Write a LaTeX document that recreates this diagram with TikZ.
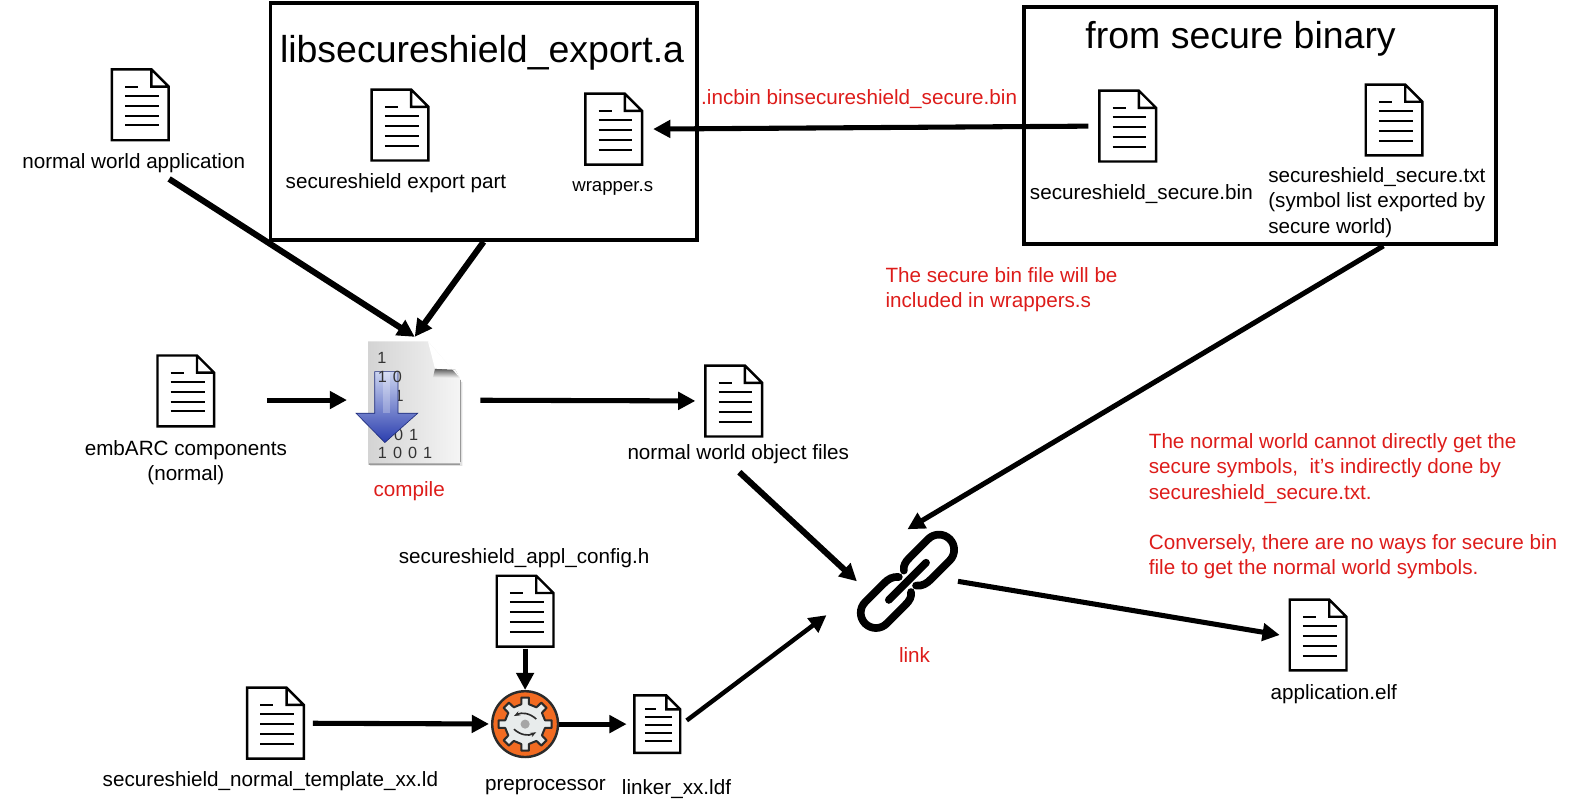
\documentclass[tikz,border=0pt]{standalone}
\usepackage{fontspec}
\setmainfont{Liberation Sans}
\usetikzlibrary{arrows.meta,positioning,calc}
\definecolor{notered}{HTML}{DD1C1A}
\definecolor{gearfill}{HTML}{F26B21}
\definecolor{gearline}{HTML}{2B2B2B}
\definecolor{gearbody}{HTML}{E8ECEC}
\definecolor{arrowtop}{HTML}{CBD4F0}
\definecolor{arrowlow}{HTML}{2A3DAE}

\begin{document}
\begin{tikzpicture}[
  x=0.5pt, y=-0.5pt,
  font=\fontsize{10.2}{12.4}\selectfont,
  doc/.style   = {minimum width=#1*29.5pt, minimum height=#1*36.5pt, inner sep=0pt,
                  path picture={
                    \begin{scope}[shift={(path picture bounding box.center)}, x={#1*0.5pt}, y={#1*-0.5pt}]
                      \draw[line width=1.2pt, line join=miter]
                        (-28,-35) -- (11,-35) -- (28,-18) -- (28,35) -- (-28,35) -- cycle
                        (11,-35) -- (11,-18) -- (28,-18);
                      \draw[line width=1pt] (-15,-18) -- (-2,-18);
                      \foreach \ly in {-9,1,10.7,20.3}
                        \draw[line width=1pt] (-15,\ly) -- (18.5,\ly);
                    \end{scope}}},
  doc/.default = 1,
  group/.style = {draw, line width=1.8pt, inner sep=0pt},
  title/.style = {font=\fontsize{18.5}{22}\selectfont, inner sep=0pt},
  lbl/.style   = {inner sep=0pt, text height=7.4pt, text depth=2.1pt},
  para/.style  = {inner sep=0pt, align=left},
  note/.style  = {para, text=notered},
  redlbl/.style= {lbl, text=notered},
  bits/.style  = {inner sep=0pt, text=black!80, font=\fontsize{8}{9}\selectfont,
                  execute at begin node={\spaceskip=3pt\relax}},
  flow/.style  = {-{Triangle[length=8.5pt,width=8.5pt]}, line width=2.5pt},
  heavy/.style = {flow, line width=3pt},
  linkpart/.style = {line width=3.8pt, line cap=round, line join=round},
]
\useasboundingbox (0,0) rectangle (1568,801);

% ---------- the two boxes on top ---------------------------------------------
\node[group, minimum width=210.5pt, minimum height=117pt] (libbox) at (477.5,120) {};
\node[title] (libtitle) at (476,52) {libsecureshield\_export.a};
\node[group, minimum width=233pt, minimum height=117pt] (securebox) at (1244,124) {};
\node[title] (securetitle) at (1225,38) {from secure binary};

\node[doc] (expdoc)  at (395,123.5)    {};
\node[doc] (wrapdoc) at (606,127.5)    {};
\node[doc] (bindoc)  at (1113.5,124.5) {};
\node[doc] (txtdoc)  at (1376.5,118.5) {};
\node[lbl, below=5.25pt of expdoc, xshift=-2pt] (explbl) {secureshield export part};
\node[lbl, below=4.75pt of wrapdoc, xshift=-0.5pt, font=\fontsize{9.2}{12}\selectfont] (wraplbl) {wrapper.s};
\node[lbl, below=10.25pt of bindoc, xshift=6.75pt] (binlbl) {secureshield\_secure.bin};
\node[para, below=5pt of txtdoc, xshift=-8.5pt] (txtlbl)
     {secureshield\_secure.txt\\(symbol list exported by\\secure world)};
\node[redlbl, anchor=west] (incbinlbl) at (692,98) {.incbin binsecureshield\_secure.bin};
\node[note, anchor=north west] (inclnote) at (874,264)
     {The secure bin file will be\\included in wrappers.s};

% ---------- compile row -------------------------------------------------------
\node[doc] (appdoc) at (138.5,103.5) {};
\node[lbl, below=5.25pt of appdoc, xshift=-3.25pt] (applbl) {normal world application};
\node[doc] (embdoc) at (183.5,386) {};
\node[para, below=6pt of embdoc, align=center] (emblbl) {embARC components\\(normal)};
\node[minimum width=46.5pt, minimum height=62pt, inner sep=0pt] (compile) at (409.5,395) {};
\begin{scope}[shift={(compile.center)}]
  \fill[black!12] (-44,-52) -- (-44,65) -- (47,65) -- (47,-18) -- (44,-18) -- (44,60) -- (-44,60) -- cycle;
  \fill[black!40] (-45.5,61) -- (45.5,61) -- (45.5,-20) -- (44.5,-20) -- (44.5,64) -- (-45.5,64) -- cycle;
  \shade[left color=black!17, right color=black!4]
    (-46,-58) -- (13,-58) -- (44.5,-22) -- (44.5,62.5) -- (-46,62.5) -- cycle;
  \shade[top color=black!65, bottom color=black!4]
    (20,-31) -- (40,-30) -- (44.5,-22) -- (18,-22) -- cycle;
  \fill[white] (13,-58) -- (20,-31) -- (40,-30) -- (44.5,-22) -- cycle;
\end{scope}
\node[bits] (bitsa) at (377,353) {1};
\node[bits] (bitsc) at (394,391) {1};
\node[bits] (bitsd) at (401,429) {0 1};
\node[bits] (bitse) at (400,447) {1 0 0 1};
\begin{scope}[shift={(compile.center)}]
  \shade[top color=arrowtop, bottom color=arrowlow, draw=arrowlow!70!black, line width=0.3pt]
    (-39.5,-28) -- (-16.5,-28) -- (-16.5,13) -- (3,13) -- (-29.5,42) -- (-58,13) -- (-39.5,13) -- cycle;
  \fill[white, opacity=0.25] (-31,-28) rectangle (-24,13);
\end{scope}
\node[bits] (bitsb) at (385,372) {1 0};
\node[redlbl, below=8.75pt of compile, xshift=-2.75pt] (compilelbl) {compile};
\node[doc] (objdoc) at (724.5,396) {};
\node[lbl, below=2.75pt of objdoc, xshift=2.25pt] (objlbl) {normal world object files};

% ---------- preprocessor row --------------------------------------------------
\node[doc] (configdoc) at (518.5,603.5) {};
\node[lbl, above=3pt of configdoc, xshift=-0.5pt] (configlbl) {secureshield\_appl\_config.h};
\node[doc] (templdoc) at (272,714) {};
\node[lbl, below=5.25pt of templdoc, xshift=-2.5pt] (templlbl) {secureshield\_normal\_template\_xx.ld};
\node[circle, draw=gearline, fill=gearfill, line width=1.2pt, minimum size=32.5pt, inner sep=0pt] (preproc) at (518.5,715) {};
\begin{scope}[shift={(preproc.center)}]
  \draw[gearline, fill=gearbody, line width=1pt, line join=round]
    (-11:20) \foreach \a in {0,45,...,315} {
      -- (\a-11:20) -- (\a-8:26.5) -- (\a+8:26.5) -- (\a+11:20) } -- cycle;
  \fill[black!35] (0,0) circle (4.5);
  \draw[gearline, line width=0.8pt, -{Stealth[length=3pt]}] (11,-5) to[bend right=35] (-11,-8);
  \draw[gearline, line width=0.8pt, -{Stealth[length=3pt]}] (-11,5) to[bend right=35] (11,8);
\end{scope}
\node[lbl, below=8.25pt of preproc, xshift=10pt] (preproclbl) {preprocessor};
\node[doc=0.81] (linkerdoc) at (649,715) {};
\node[lbl, below=12pt of linkerdoc, xshift=9.5pt] (linkerlbl) {linker\_xx.ldf};

% ---------- link and the result ----------------------------------------------
\node[minimum width=49.5pt, minimum height=51pt, inner sep=0pt] (link) at (896,574) {};
\begin{scope}[shift={(link.center)}, x=0.5pt, y=0.5pt, rotate=45]
  \foreach \r in {0,180} {
    \draw[linkpart, rotate=\r] (5,10) .. controls (8,14) and (12,15) .. (18,15) -- (44,15)
      arc[start angle=90, end angle=-90, radius=15]
      -- (18,-15) .. controls (12,-15) and (7,-14) .. (3,-9);
  }
  \draw[linkpart] (-26,0) -- (26,0);
\end{scope}
\node[redlbl, below=6.75pt of link, xshift=3.5pt] (linklbl) {link};
\node[doc] (elfdoc) at (1301.5,627) {};
\node[lbl, below=5.75pt of elfdoc, xshift=7.75pt] (elflbl) {application.elf};
\node[note, anchor=north west] (worldnote) at (1134,428)
     {The normal world cannot directly get the\\secure symbols,\ \ it’s indirectly done by\\secureshield\_secure.txt.\\[12.4pt]Conversely, there are no ways for secure bin\\file to get the normal world symbols.};

% ---------- connectors ---------------------------------------------------------
\draw[heavy] ($(applbl.south)+(35,6)$) -- (compile.north);
\draw[heavy] (libbox.south) -- (compile.north);
\draw[flow, shorten <=25pt, shorten >=10pt] (embdoc.east |- compile) -- (compile);
\draw[flow, shorten <=9pt, shorten >=4pt] (compile) -- (objdoc);
\draw[flow, shorten <=4.5pt, shorten >=4.5pt] (bindoc.west) -- (wrapdoc.east);
\draw[flow] ($(securebox.south)+(122,0)$) -- (link.north);
\draw[heavy] ($(objlbl.south)+(1,8)$) -- (link.west);
\draw[flow, line width=2.2pt, shorten <=3pt] (linkerdoc.east) -- ($(link.south west)+(-30,-18)$);
\draw[flow] (link.east) -- ($(elfdoc.west)+(-8,0)$);
\draw[flow] (configdoc) -- (preproc);
\draw[flow, shorten <=3.5pt, shorten >=1pt] (templdoc) -- (preproc);
\draw[flow, shorten >=3pt] (preproc) -- (linkerdoc);
\end{tikzpicture}
\end{document}
